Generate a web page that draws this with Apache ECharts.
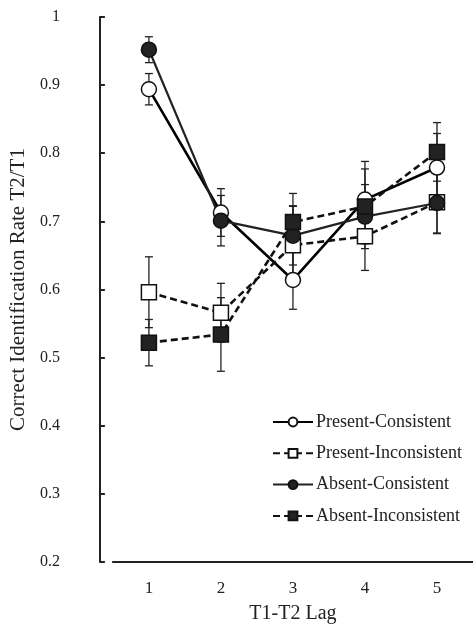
<!DOCTYPE html>
<html>
<head>
<meta charset="utf-8">
<script src="https://cdn.jsdelivr.net/npm/echarts@6/dist/echarts.min.js"></script>
<style>
html,body{margin:0;padding:0;background:#fff;}
#main{width:473px;height:629px;}
</style>
</head>
<body>
<div id="main"></div>
<script>
// data
var lags = ['1', '2', '3', '4', '5'];
var seriesNames = ['Present-Consistent', 'Present-Inconsistent', 'Absent-Consistent', 'Absent-Inconsistent'];
var presentConsistent = [0.894, 0.713, 0.614, 0.732, 0.779];
var presentInconsistent = [0.596, 0.566, 0.665, 0.678, 0.728];
var absentConsistent = [0.952, 0.701, 0.679, 0.707, 0.727];
var absentInconsistent = [0.522, 0.534, 0.699, 0.722, 0.802];
// error bar half widths
var errPC = [0.023, 0.035, 0.043, 0.056, 0.050];
var errPI = [0.052, 0.043, 0.058, 0.050, 0.045];
var errAC = [0.019, 0.037, 0.043, 0.047, 0.045];
var errAI = [0.034, 0.054, 0.042, 0.055, 0.043];

var fontName = 'Liberation Serif';

function errData(vals, errs){
    var out = [];
    for (var i = 0; i < vals.length; i++) {
        out.push([i, vals[i] - errs[i], vals[i] + errs[i]]);
    }
    return out;
}

function errRender(params, api){
    var x = api.value(0);
    var lo = api.coord([x, api.value(1)]);
    var hi = api.coord([x, api.value(2)]);
    var w = 4;
    var st = {stroke: '#222', lineWidth: 1.3};
    return {
        type: 'group',
        children: [
            {type: 'line', shape: {x1: hi[0], y1: hi[1], x2: lo[0], y2: lo[1]}, style: st},
            {type: 'line', shape: {x1: hi[0] - w, y1: hi[1], x2: hi[0] + w, y2: hi[1]}, style: st},
            {type: 'line', shape: {x1: lo[0] - w, y1: lo[1], x2: lo[0] + w, y2: lo[1]}, style: st}
        ]
    };
}

function errSeries(vals, errs){
    return {
        type: 'custom',
        renderItem: errRender,
        data: errData(vals, errs),
        z: 1,
        silent: true
    };
}

function lineSeries(name, vals, symbol, fill, dashed, width, color){
    return {
        name: name,
        type: 'line',
        data: vals,
        symbol: symbol,
        symbolSize: 15,
        z: 3,
        lineStyle: {color: color, width: width, type: dashed ? [7, 4] : 'solid'},
        itemStyle: {color: fill, borderColor: '#111', borderWidth: 1.5},
        emphasis: {disabled: true}
    };
}

var myChart = echarts.init(document.getElementById('main'));
var option = {
    backgroundColor: '#fff',
    animation: false,
    grid: {left: 110, top: 17, width: 365, height: 551},
    legend: {
        data: seriesNames,
        orient: 'vertical',
        left: 272,
        top: 413,
        padding: 0,
        itemWidth: 40,
        itemHeight: 11,
        itemGap: 13.3,
        textStyle: {fontFamily: fontName, fontSize: 18, lineHeight: 18, color: '#222', padding: [0, 0, 0, -2]}
    },
    xAxis: {
        type: 'category',
        data: lags,
        name: 'T1-T2 Lag',
        nameLocation: 'middle',
        nameGap: 42,
        nameTextStyle: {fontFamily: fontName, fontSize: 20, color: '#222'},
        axisLine: {lineStyle: {color: '#222', width: 2}},
        axisTick: {inside: true, length: 5, lineStyle: {color: '#222', width: 2}},
        axisLabel: {fontFamily: fontName, fontSize: 17, color: '#222', margin: 18},
        splitLine: {show: false}
    },
    yAxis: {
        type: 'value',
        min: 0.2,
        max: 1,
        interval: 0.1,
        offset: 13,
        name: 'Correct Identification Rate T2/T1',
        nameLocation: 'middle',
        nameGap: 66,
        nameTextStyle: {fontFamily: fontName, fontSize: 21, color: '#222'},
        axisLine: {show: true, lineStyle: {color: '#222', width: 2}},
        axisTick: {show: true, inside: true, length: 5, lineStyle: {color: '#222', width: 2}},
        axisLabel: {fontFamily: fontName, fontSize: 16, color: '#222', margin: 40,
            formatter: function(v){ return String(Math.round(v * 10) / 10); }},
        splitLine: {show: false}
    },
    series: [
        errSeries(presentConsistent, errPC),
        errSeries(presentInconsistent, errPI),
        errSeries(absentConsistent, errAC),
        errSeries(absentInconsistent, errAI),
        lineSeries(seriesNames[0], presentConsistent, 'circle', '#fff', false, 2.6, '#000'),
        lineSeries(seriesNames[1], presentInconsistent, 'rect', '#fff', true, 2.6, '#111'),
        lineSeries(seriesNames[2], absentConsistent, 'circle', '#222', false, 2.2, '#222'),
        lineSeries(seriesNames[3], absentInconsistent, 'rect', '#222', true, 2.6, '#111')
    ]
};
myChart.setOption(option, true);
</script>
</body>
</html>
